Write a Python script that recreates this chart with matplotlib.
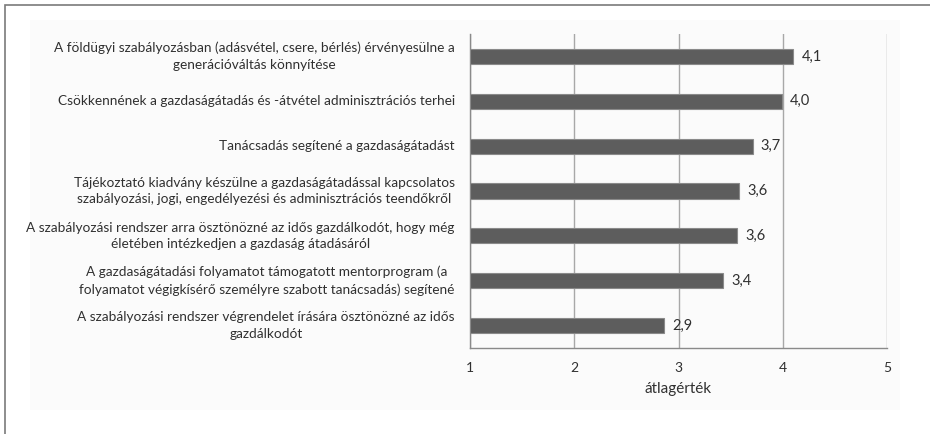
import matplotlib.pyplot as plt
from matplotlib.patches import Rectangle

plt.rcParams['font.family'] = ['Lato', 'DejaVu Sans']

labels = [
    "A földügyi szabályozásban (adásvétel, csere, bérlés) érvényesülne a\ngenerációváltás könnyítése",
    "Csökkennének a gazdaságátadás és -átvétel adminisztrációs terhei",
    "Tanácsadás segítené a gazdaságátadást",
    "Tájékoztató kiadvány készülne a gazdaságátadással kapcsolatos\nszabályozási, jogi, engedélyezési és adminisztrációs teendőkről",
    "A szabályozási rendszer arra ösztönözné az idős gazdálkodót, hogy még\néletében intézkedjen a gazdaság átadásáról",
    "A gazdaságátadási folyamatot támogatott mentorprogram (a\nfolyamatot végigkísérő személyre szabott tanácsadás) segítené",
    "A szabályozási rendszer végrendelet írására ösztönözné az idős\ngazdálkodót",
]
values = [4.10, 3.99, 3.71, 3.58, 3.56, 3.43, 2.86]
value_text = ["4,1", "4,0", "3,7", "3,6", "3,6", "3,4", "2,9"]
xticks = [1, 2, 3, 4, 5]

text_col = "#303030"

fig = plt.figure(figsize=(9.3, 4.34), dpi=100)
fig.patch.set_facecolor("white")
# light panel and outer frame
fig.patches.append(Rectangle((30 / 930, 1 - 410 / 434), 870 / 930, 390 / 434,
                             transform=fig.transFigure, facecolor="#fbfbfb",
                             edgecolor="none", zorder=-10))
fig.patches.append(Rectangle((5 / 930, -0.1), 1.2, 1 - 5 / 434 + 0.1,
                             transform=fig.transFigure, facecolor="none",
                             edgecolor="#7a7a7a", linewidth=1.2, zorder=-5))

ax = fig.add_axes([470 / 930, 1 - 348 / 434, 417 / 930, 314 / 434])
ax.set_facecolor("none")

y = list(range(len(values)))
ax.barh(y, [v - 1 for v in values], left=1, height=0.34,
        color="#5d5d5d", edgecolor="#8a8a8a", linewidth=0.8, zorder=3)
for yi, v, t in zip(y, values, value_text):
    ax.text(v + 0.08, yi, t, va="center", ha="left", fontsize=10.5, color=text_col)

# category labels drawn as annotations so the line spacing sticks
ax.set_yticks(y)
ax.set_yticklabels([])
for yi, lab in zip(y, labels):
    ax.annotate(lab, xy=(0, yi), xycoords=ax.get_yaxis_transform(),
                xytext=(-11, 0), textcoords="offset points",
                ha="right", va="center", multialignment="center",
                linespacing=1.45, fontsize=9.8, color=text_col)

ax.set_xlim(1, 5)
ax.set_ylim(len(values) - 0.5, -0.5)
ax.set_xticks(xticks)
ax.set_xticklabels([str(x) for x in xticks], fontsize=10, color=text_col)
ax.tick_params(axis="both", length=0)
ax.tick_params(axis="x", pad=10)
ax.grid(axis="x", color="#a8a8a8", linewidth=1, zorder=0)
for s in ["top", "right"]:
    ax.spines[s].set_visible(False)
for s in ["left", "bottom"]:
    ax.spines[s].set_color("#8a8a8a")
    ax.spines[s].set_linewidth(1)
ax.set_xlabel("átlagérték", fontsize=11, color=text_col, labelpad=6)

fig.savefig("out.png", dpi=100)
